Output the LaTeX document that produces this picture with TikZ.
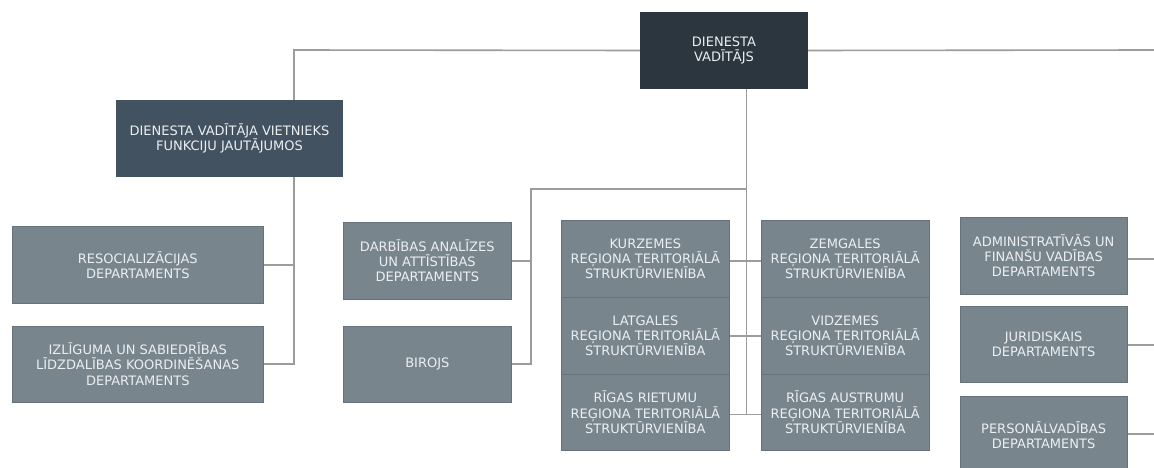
\documentclass[tikz,border=0pt]{standalone}
\usepackage{fontspec}
\setmainfont{DejaVu Sans}
\definecolor{topc}{HTML}{2C363F}
\definecolor{depc}{HTML}{435260}
\definecolor{boxc}{HTML}{78858D}
\definecolor{boxb}{HTML}{66727A}
\definecolor{txtc}{HTML}{ECEFF1}
\definecolor{linec}{HTML}{9C9C9C}
\begin{document}
\begin{tikzpicture}[x=1pt,y=-1pt,
  base/.style={rectangle,inner sep=0pt,align=center,text=txtc,
    font=\fontsize{13}{15.2}\selectfont},
  topbox/.style={base,fill=topc,minimum width=168pt,minimum height=77pt},
  depbox/.style={base,fill=depc,minimum width=227pt,minimum height=77pt},
  unit/.style={base,fill=boxc,draw=boxb,line width=0.6pt,minimum height=76.7pt},
  wide/.style={unit,minimum width=251.5pt},
  mid/.style={unit,minimum width=168pt},
  conn/.style={draw=linec,line width=1.6pt}]
\useasboundingbox (0,0) rectangle (1154,468);
\fill[white] (0,0) rectangle (1154,468);

% helper coordinates
\coordinate (tl) at (294,50);
\coordinate (tr) at (1154,50);
\coordinate (lv) at (294,364.2);
\coordinate (cv) at (746.3,414.3);
\coordinate (cb) at (746.3,189);
\coordinate (mb) at (531,189);
\coordinate (mv) at (531,364.2);
\coordinate (ra) at (1154,259);
\coordinate (rj) at (1154,345);
\coordinate (rp) at (1154,434);

% nodes
\node[topbox] (top) at (724,50.5) {DIENESTA\\VADĪTĀJS};
\node[depbox] (dep) at (229.5,138.5) {DIENESTA VADĪTĀJA VIETNIEKS\\FUNKCIJU JAUTĀJUMOS};

\node[wide] (reso) at (137.8,265) {RESOCIALIZĀCIJAS\\DEPARTAMENTS};
\node[wide] (izl) at (137.8,364.2) {IZLĪGUMA UN SABIEDRĪBAS\\LĪDZDALĪBAS KOORDINĒŠANAS\\DEPARTAMENTS};

\node[mid] (darb) at (427.3,260.7) {DARBĪBAS ANALĪZES\\UN ATTĪSTĪBAS\\DEPARTAMENTS};
\node[mid] (biro) at (427.3,364.2) {BIROJS};

\node[mid] (kurz) at (645.3,259) {KURZEMES\\REĢIONA TERITORIĀLĀ\\STRUKTŪRVIENĪBA};
\node[mid] (latg) at (645.3,335.7) {LATGALES\\REĢIONA TERITORIĀLĀ\\STRUKTŪRVIENĪBA};
\node[mid] (rigr) at (645.3,412.4) {RĪGAS RIETUMU\\REĢIONA TERITORIĀLĀ\\STRUKTŪRVIENĪBA};

\node[mid] (zemg) at (845.2,259) {ZEMGALES\\REĢIONA TERITORIĀLĀ\\STRUKTŪRVIENĪBA};
\node[mid] (vidz) at (845.2,335.7) {VIDZEMES\\REĢIONA TERITORIĀLĀ\\STRUKTŪRVIENĪBA};
\node[mid] (riga) at (845.2,412.4) {RĪGAS AUSTRUMU\\REĢIONA TERITORIĀLĀ\\STRUKTŪRVIENĪBA};

\node[mid,minimum width=167.5pt] (admi) at (1043.6,255.7) {ADMINISTRATĪVĀS UN\\FINANŠU VADĪBAS\\DEPARTAMENTS};
\node[mid,minimum width=167.5pt] (juri) at (1043.6,344.3) {JURIDISKAIS\\DEPARTAMENTS};
\node[mid,minimum width=167.5pt] (pers) at (1043.6,435) {PERSONĀLVADĪBAS\\DEPARTAMENTS};

% connectors
\path[conn] (top.west) -- (tl) -- (dep.north -| tl);
\path[conn] (top.east) -- (tr);
\path[conn] (dep.south -| tl) -- (lv) -- (izl.east);
\path[conn] (reso.east) -- (reso.east -| tl);
\path[conn] (top.south -| cv) -- (cv);
\path[conn] (cb) -- (mb) -- (mv) -- (biro.east);
\path[conn] (darb.east) -- (darb.east -| mb);
\path[conn] (kurz.east |- 0,261) -- (zemg.west |- 0,261);
\path[conn] (latg.east) -- (vidz.west);
\path[conn] (rigr.east |- cv) -- (riga.west |- cv);
\path[conn] (admi.east |- ra) -- (ra);
\path[conn] (juri.east |- rj) -- (rj);
\path[conn] (pers.east |- rp) -- (rp);
\end{tikzpicture}
\end{document}
